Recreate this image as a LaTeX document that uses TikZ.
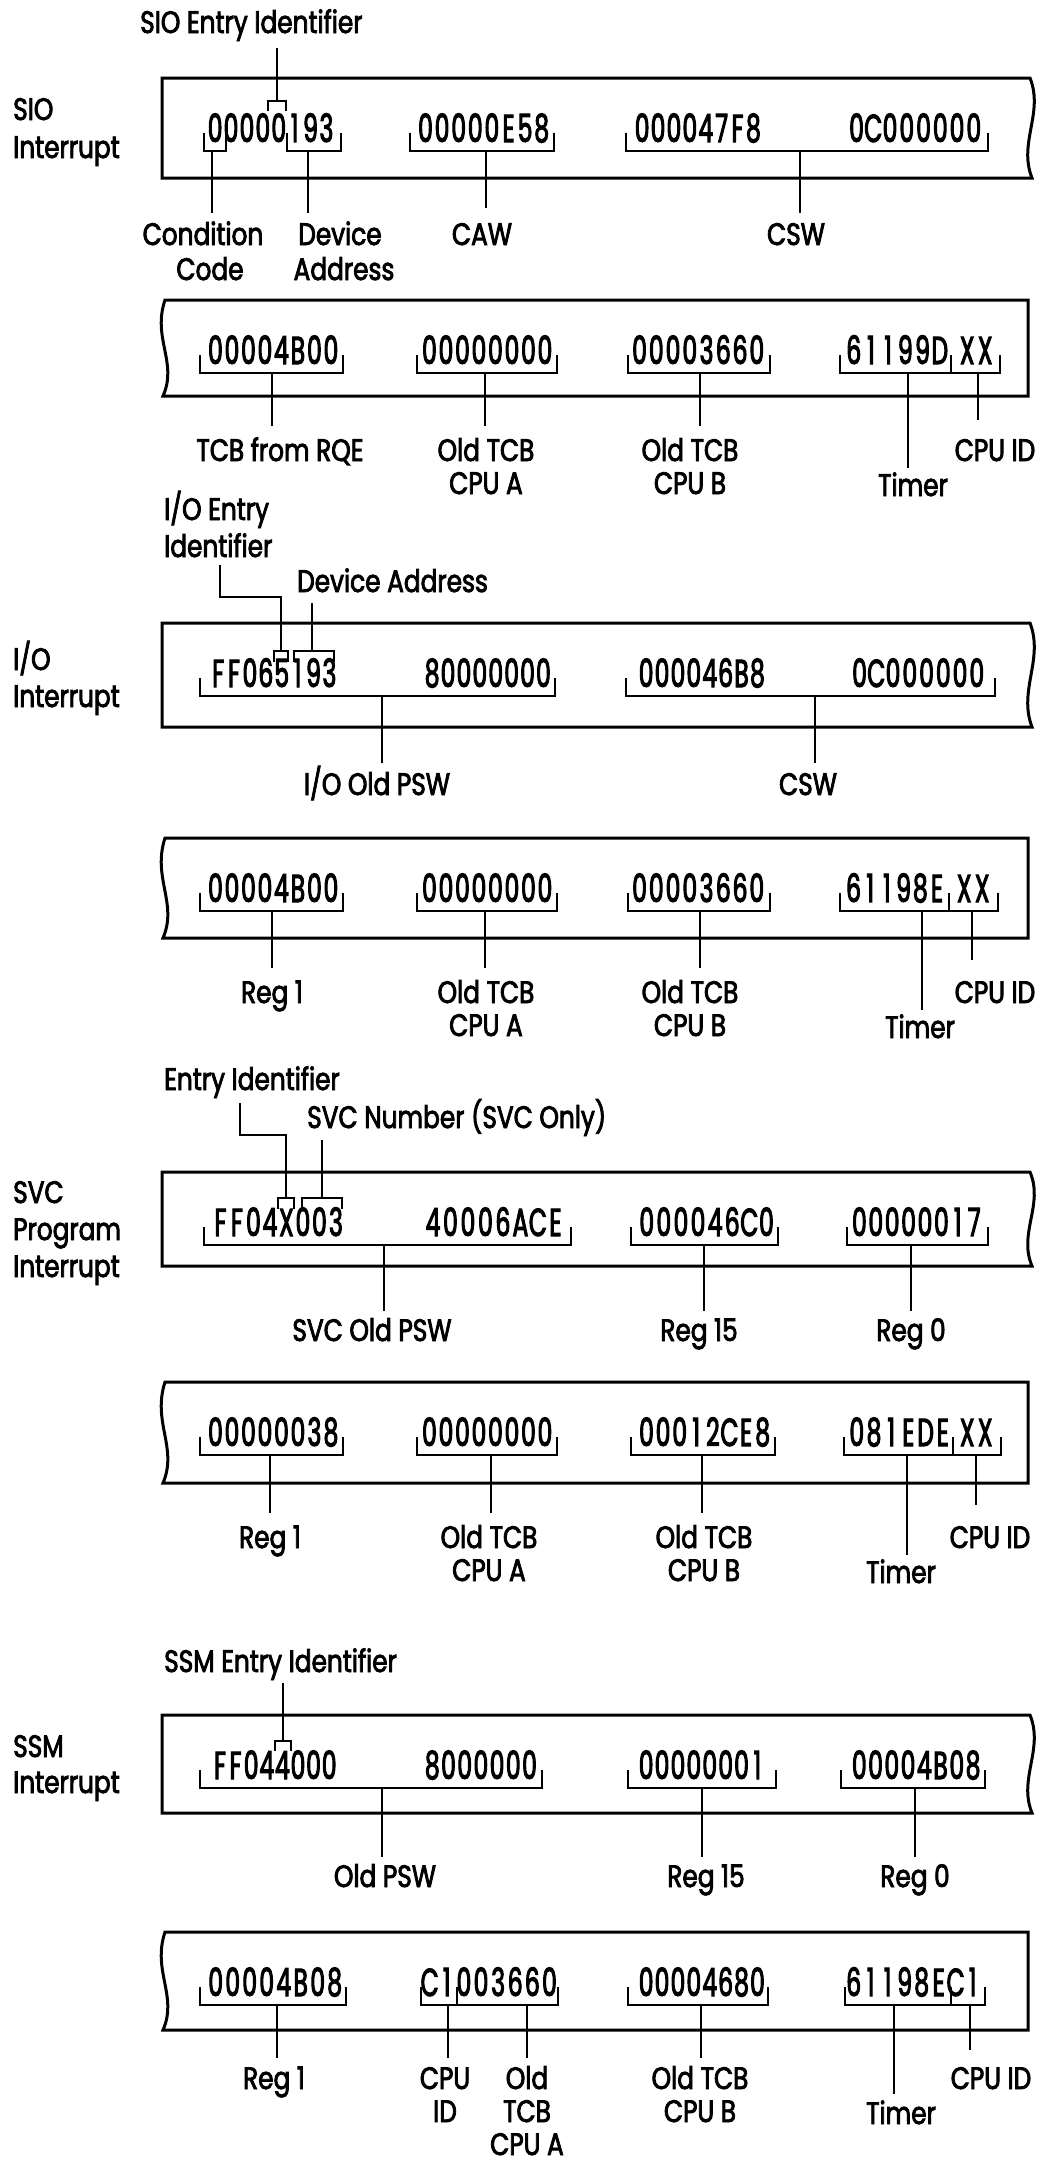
\documentclass[tikz,border=0pt]{standalone}
\usepackage{fontspec}
\setmainfont{Poppins}[FakeStretch=0.8,FakeBold=2.6]
\newfontfamily\valfont{Poppins}[FakeStretch=0.6,FakeBold=2.6]
\newlength\hwpitch
\def\hwloop#1{\ifx#1\relax\else\makebox[\hwpitch][c]{#1}\expandafter\hwloop\fi}
\newcommand\hexw[2]{\setlength\hwpitch{#1pt}\hwloop#2\relax}
\tikzset{
  box/.style={line width=3pt},
  lead/.style={line width=2.4pt},
  val/.style={inner sep=0pt, anchor=base west, font=\valfont\fontsize{39}{44}\selectfont},
  lab/.style={inner sep=0pt, anchor=base, font=\fontsize{31}{36}\selectfont},
  labl/.style={inner sep=0pt, anchor=base west, font=\fontsize{31}{36}\selectfont},
}
% box with wavy right edge: name, top, bottom
\newcommand\rwbox[3]{\draw[box] (162,#2) -- (1030,#2) .. controls (1044,#2*0.65+#3*0.35) and (1018,#2*0.35+#3*0.65) .. (1032,#3) -- (162,#3) -- cycle;
  \coordinate (#1) at (597,#2);}
% box with wavy left edge
\newcommand\lwbox[3]{\draw[box] (165,#2) -- (1028,#2) -- (1028,#3) -- (163,#3) .. controls (178,#2*0.35+#3*0.65) and (152,#2*0.6+#3*0.4) .. (165,#2) -- cycle;
  \coordinate (#1) at (597,#2);}
% under bracket with leader: name, x1, x2, xline, baseline, yend
\newcommand\ulead[6]{%
  \draw[lead] (#2,#5-9) -- (#2,#5+9) -- (#3,#5+9) -- (#3,#5-9);
  \coordinate (#1s) at (#4,#5+9);
  \coordinate (#1e) at (#4,#6);
  \draw[lead] (#1s) -- (#1e);}
% over bracket: x1, x2, top, legs end
\newcommand\obr[4]{\draw[lead] (#1,#4) -- (#1,#3) -- (#2,#3) -- (#2,#4);}
\begin{document}
\begin{tikzpicture}[x=1pt,y=-1pt]
\useasboundingbox (0,0) rectangle (1047,2169);

% ================= SIO =================
\rwbox{box1}{78}{178}
\node[labl] (sioT) at (140,33) {SIO Entry Identifier};
\node[labl] (sioL1) at (13,120) {SIO};
\node[labl] (sioL2) at (13,158) {Interrupt};
\node[val] (v1a) at (207,142) {\hexw{15.9}{00000193}};
\node[val] (v1b) at (417,142) {\hexw{16.6}{00000E58}};
\node[val] (v1c) at (634,142) {\hexw{15.9}{000047F8}};
\node[val] (v1d) at (848,142) {\hexw{16.75}{0C000000}};
\obr{268}{286}{101}{111}
\coordinate (sioEa) at (277,48); \coordinate (sioEb) at (277,101);
\draw[lead] (sioEa) -- (sioEb);
\ulead{b1cc}{204}{226}{212}{142}{213}
\ulead{b1da}{287}{341}{308}{142}{213}
\ulead{b1caw}{410}{554}{486}{142}{208}
\ulead{b1csw}{626}{988}{800}{142}{213}
\node[lab] (l1cc1) at (203,245) {Condition};
\node[lab] (l1cc2) at (210,280) {Code};
\node[lab] (l1da1) at (340,245) {Device};
\node[lab] (l1da2) at (344,280) {Address};
\node[lab] (l1caw) at (482,245) {CAW};
\node[lab] (l1csw) at (796,245) {CSW};

% ================= SIO second word =================
\lwbox{box2}{300}{396}
\node[val] (v2a) at (207,364) {\hexw{16.5}{00004B00}};
\node[val] (v2b) at (421,364) {\hexw{16.5}{00000000}};
\node[val] (v2c) at (631,364) {\hexw{16.75}{00003660}};
\node[val] (v2d) at (845,364) {\hexw{17.2}{61199D}};
\node[val] (v2e) at (958,364) {\hexw{18}{XX}};
\ulead{b2a}{200}{343}{272}{364}{426}
\ulead{b2b}{417}{557}{485}{364}{426}
\ulead{b2c}{628}{770}{700}{364}{426}
\ulead{b2d}{840}{951}{908}{364}{468}
\ulead{b2e}{951}{1000}{978}{364}{420}
\node[lab] (l2a) at (280,461) {TCB from RQE};
\node[lab] (l2b1) at (486,461) {Old TCB};
\node[lab] (l2b2) at (486,494) {CPU A};
\node[lab] (l2c1) at (690,461) {Old TCB};
\node[lab] (l2c2) at (690,494) {CPU B};
\node[lab] (l2d) at (913,496) {Timer};
\node[lab] (l2e) at (995,461) {CPU ID};

% ================= I/O =================
\rwbox{box3}{623}{727}
\node[labl] (ioT1) at (164,520) {I/O Entry};
\node[labl] (ioT2) at (164,557) {Identifier};
\node[labl] (ioT3) at (297,592) {Device Address};
\node[labl] (ioL1) at (13,670) {I/O};
\node[labl] (ioL2) at (13,707) {Interrupt};
\node[val] (v3a) at (210,687) {\hexw{15.9}{FF065193}};
\node[val] (v3b) at (424,687) {\hexw{15.9}{80000000}};
\node[val] (v3c) at (638,687) {\hexw{15.9}{000046B8}};
\node[val] (v3d) at (851,687) {\hexw{16.75}{0C000000}};
\obr{274}{288}{651}{662}
\obr{294}{334}{651}{662}
\coordinate (ioEa) at (220,565); \coordinate (ioEc) at (220,597); \coordinate (ioEb) at (281,651);
\draw[lead] (ioEa) -- (ioEc) -| (ioEb);
\coordinate (ioDa) at (312,603); \coordinate (ioDb) at (312,651);
\draw[lead] (ioDa) -- (ioDb);
\ulead{b3a}{200}{555}{382}{687}{763}
\ulead{b3b}{626}{995}{815}{687}{763}
\node[lab] (l3a) at (377,795) {I/O Old PSW};
\node[lab] (l3b) at (808,795) {CSW};

% ================= I/O second word =================
\lwbox{box4}{838}{938}
\node[val] (v4a) at (207,902) {\hexw{16.5}{00004B00}};
\node[val] (v4b) at (421,902) {\hexw{16.5}{00000000}};
\node[val] (v4c) at (631,902) {\hexw{16.75}{00003660}};
\node[val] (v4d) at (845,902) {\hexw{16.7}{61198E}};
\node[val] (v4e) at (955,902) {\hexw{18}{XX}};
\ulead{b4a}{200}{343}{272}{902}{968}
\ulead{b4b}{417}{557}{485}{902}{968}
\ulead{b4c}{628}{770}{700}{902}{968}
\ulead{b4d}{840}{949}{922}{902}{1010}
\ulead{b4e}{949}{998}{972}{902}{960}
\node[lab] (l4a) at (272,1003) {Reg 1};
\node[lab] (l4b1) at (486,1003) {Old TCB};
\node[lab] (l4b2) at (486,1036) {CPU A};
\node[lab] (l4c1) at (690,1003) {Old TCB};
\node[lab] (l4c2) at (690,1036) {CPU B};
\node[lab] (l4d) at (920,1038) {Timer};
\node[lab] (l4e) at (995,1003) {CPU ID};

% ================= SVC =================
\rwbox{box5}{1172}{1266}
\node[labl] (svT1) at (164,1090) {Entry Identifier};
\node[labl] (svT2) at (307,1128) {SVC Number (SVC Only)};
\node[labl] (svL1) at (13,1203) {SVC};
\node[labl] (svL2) at (13,1240) {Program};
\node[labl] (svL3) at (13,1277) {Interrupt};
\node[val] (v5a) at (212,1236) {\hexw{16.5}{FF04X003}};
\node[val] (v5b) at (424,1236) {\hexw{17.5}{40006ACE}};
\node[val] (v5c) at (638,1236) {\hexw{17.1}{000046C0}};
\node[val] (v5d) at (851,1236) {\hexw{16.4}{00000017}};
\obr{278}{294}{1198}{1209}
\obr{302}{342}{1198}{1209}
\coordinate (svEa) at (240,1103); \coordinate (svEc) at (240,1135); \coordinate (svEb) at (286,1198);
\draw[lead] (svEa) -- (svEc) -| (svEb);
\coordinate (svNa) at (322,1140); \coordinate (svNb) at (322,1198);
\draw[lead] (svNa) -- (svNb);
\ulead{b5a}{204}{571}{384}{1236}{1311}
\ulead{b5b}{631}{778}{704}{1236}{1311}
\ulead{b5c}{847}{988}{911}{1236}{1311}
\node[lab] (l5a) at (372,1341) {SVC Old PSW};
\node[lab] (l5b) at (699,1341) {Reg 15};
\node[lab] (l5c) at (911,1341) {Reg 0};

% ================= SVC second word =================
\lwbox{box6}{1382}{1483}
\node[val] (v6a) at (207,1446) {\hexw{16.5}{00000038}};
\node[val] (v6b) at (421,1446) {\hexw{16.5}{00000000}};
\node[val] (v6c) at (638,1446) {\hexw{16.6}{00012CE8}};
\node[val] (v6d) at (848,1446) {\hexw{17.2}{081EDE}};
\node[val] (v6e) at (958,1446) {\hexw{18}{XX}};
\ulead{b6a}{200}{343}{270}{1446}{1513}
\ulead{b6b}{417}{557}{491}{1446}{1513}
\ulead{b6c}{631}{775}{702}{1446}{1513}
\ulead{b6d}{844}{953}{907}{1446}{1555}
\ulead{b6e}{953}{1001}{976}{1446}{1505}
\node[lab] (l6a) at (270,1548) {Reg 1};
\node[lab] (l6b1) at (489,1548) {Old TCB};
\node[lab] (l6b2) at (489,1581) {CPU A};
\node[lab] (l6c1) at (704,1548) {Old TCB};
\node[lab] (l6c2) at (704,1581) {CPU B};
\node[lab] (l6d) at (901,1583) {Timer};
\node[lab] (l6e) at (990,1548) {CPU ID};

% ================= SSM =================
\rwbox{box7}{1715}{1813}
\node[labl] (ssT) at (164,1672) {SSM Entry Identifier};
\node[labl] (ssL1) at (13,1757) {SSM};
\node[labl] (ssL2) at (13,1793) {Interrupt};
\node[val] (v7a) at (212,1779) {\hexw{15.6}{FF044000}};
\node[val] (v7b) at (424,1779) {\hexw{16.2}{8000000}};
\node[val] (v7c) at (638,1779) {\hexw{15.9}{00000001}};
\node[val] (v7d) at (851,1779) {\hexw{16.25}{00004B08}};
\obr{275}{291}{1741}{1751}
\coordinate (ssEa) at (283,1683); \coordinate (ssEb) at (283,1741);
\draw[lead] (ssEa) -- (ssEb);
\ulead{b7a}{200}{542}{382}{1779}{1857}
\ulead{b7b}{628}{776}{702}{1779}{1857}
\ulead{b7c}{841}{985}{915}{1779}{1857}
\node[lab] (l7a) at (385,1887) {Old PSW};
\node[lab] (l7b) at (706,1887) {Reg 15};
\node[lab] (l7c) at (915,1887) {Reg 0};

% ================= SSM second word =================
\lwbox{box8}{1932}{2030}
\node[val] (v8a) at (207,1996) {\hexw{17}{00004B08}};
\node[val] (v8b) at (421,1996) {\hexw{17.1}{C1003660}};
\node[val] (v8c) at (638,1996) {\hexw{15.9}{00004680}};
\node[val] (v8d) at (845,1996) {\hexw{17}{61198EC1}};
\ulead{b8a}{200}{346}{277}{1996}{2058}
\ulead{b8b}{421}{457}{448}{1996}{2058}
\ulead{b8c}{457}{558}{527}{1996}{2058}
\ulead{b8d}{628}{768}{701}{1996}{2058}
\ulead{b8e}{845}{951}{894}{1996}{2094}
\ulead{b8f}{951}{985}{970}{1996}{2050}
\node[lab] (l8a) at (274,2089) {Reg 1};
\node[lab] (l8b1) at (445,2089) {CPU};
\node[lab] (l8b2) at (445,2122) {ID};
\node[lab] (l8c1) at (527,2089) {Old};
\node[lab] (l8c2) at (527,2122) {TCB};
\node[lab] (l8c3) at (527,2155) {CPU A};
\node[lab] (l8d1) at (700,2089) {Old TCB};
\node[lab] (l8d2) at (700,2122) {CPU B};
\node[lab] (l8e) at (901,2124) {Timer};
\node[lab] (l8f) at (991,2089) {CPU ID};
\end{tikzpicture}
\end{document}
